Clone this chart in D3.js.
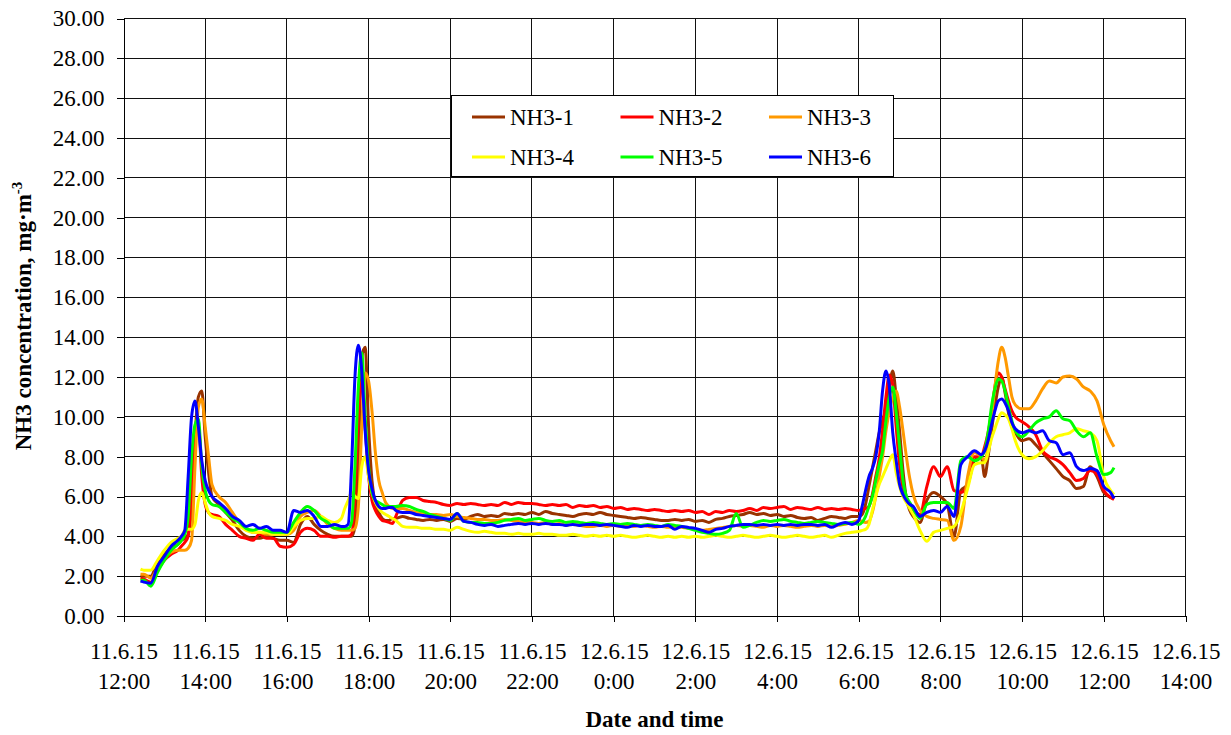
<!DOCTYPE html>
<html>
<head>
<meta charset="utf-8">
<title>NH3 concentration</title>
<script src="https://d3js.org/d3.v7.min.js"></script>
<style>
body { margin: 0; background: #fff; }
text { font-family: "Liberation Serif", "Times New Roman", serif; fill: #000; }
</style>
</head>
<body>
<div id="chart"></div>
<script>
// measurement start and sample times (minutes after 11.6.15 12:00)
var startTime = "11.6.15 12:00";
var minutes = [25, 30, 40, 50, 60, 70, 80,
  85, 90, 95, 100, 105, 110, 115, 120, 125, 130,
  140, 150, 160, 170, 180, 190, 200, 210, 220, 230, 240, 250, 260, 270, 280, 290, 300, 310, 320,
  325, 330, 335, 340, 345, 350, 355, 360, 365, 370, 375, 380, 385, 390, 395,
  400, 410, 420, 430, 440, 450, 460, 470, 480, 490,
  500, 510, 520, 530, 540, 550, 560, 570, 580, 590,
  600, 610, 620, 630, 640, 650, 660, 670, 680, 690,
  700, 710, 720, 730, 740, 750, 760, 770, 780, 790,
  800, 810, 820, 830, 840, 850, 860, 870, 880, 890,
  900, 910, 920, 930, 940, 950, 960, 970, 980, 990,
  1000, 1010, 1020, 1030, 1040, 1050, 1060, 1070,
  1080, 1085, 1090, 1095, 1100, 1105, 1110, 1115, 1120, 1125, 1130, 1135, 1140, 1145, 1150, 1155, 1160,
  1170, 1180, 1190, 1200, 1210, 1220, 1230, 1240, 1250, 1260,
  1265, 1270, 1275, 1280, 1285, 1290, 1295, 1300, 1305,
  1310, 1320, 1330, 1340, 1350, 1360, 1370, 1380, 1390, 1400, 1410, 1420, 1430, 1440, 1450,
  1455];

var nh3_1 = [2.0, 2.0, 2.0, 2.7, 3.1, 3.4, 3.6,
  3.8, 3.9, 4.1, 5.5, 9.0, 11.0, 11.3, 9.0, 7.2, 6.0,
  5.6, 5.2, 4.8, 4.3, 4.0, 3.9, 3.9, 4.0, 3.9, 3.8, 3.8, 3.7, 4.6, 5.0, 4.6, 4.3, 4.1, 4.0, 4.0,
  4.0, 4.0, 4.0, 4.5, 8.0, 13.0, 13.5, 9.5, 6.8, 5.6, 5.2, 4.9, 4.8, 4.8, 4.9,
  4.9, 5.0, 4.9, 4.85, 4.8, 4.85, 4.8, 4.85, 4.75, 4.9,
  4.85, 5.0, 5.1, 5.0, 5.05, 5.0, 5.15, 5.1, 5.15, 5.1,
  5.2, 5.1, 5.25, 5.15, 5.1, 5.05, 5.0, 5.1, 5.15, 5.1,
  5.2, 5.1, 5.05, 5.0, 4.95, 4.9, 4.95, 4.9, 4.85, 4.8,
  4.8, 4.85, 4.8, 4.85, 4.75, 4.8, 4.7, 4.85, 4.9, 5.0,
  5.05, 5.1, 5.2, 5.1, 5.15, 5.05, 5.1, 5.0, 5.05, 4.95,
  4.9, 4.95, 4.8, 4.9, 5.0, 4.95, 4.9, 5.0,
  5.0, 5.1, 5.6, 6.5, 7.4, 8.3, 9.2, 9.8, 10.4, 11.5, 12.3, 11.0, 9.3, 7.3, 5.9, 5.3, 5.0,
  4.7, 5.8, 6.2, 6.0, 5.6, 4.0, 6.3, 6.6, 7.8, 8.0,
  7.0, 8.0, 9.3, 10.5, 11.5, 12.0, 11.2, 10.2, 9.5,
  9.2, 8.8, 8.9, 8.6, 8.2, 7.8, 7.4, 7.0, 6.8, 6.4, 6.5, 7.5, 7.0, 6.2, 5.95,
  5.9];

var nh3_2 = [1.9, 1.85, 1.7, 2.3, 2.8, 3.1, 3.3,
  3.5, 3.7, 4.0, 6.5, 9.3, 9.6, 7.0, 5.6, 5.2, 5.1,
  5.0, 4.6, 4.3, 4.0, 3.9, 3.8, 4.1, 3.9, 3.9, 3.5, 3.45, 3.6, 4.2, 4.4, 4.3, 4.0, 4.0, 3.95, 4.0,
  4.0, 4.0, 4.1, 6.0, 10.0, 11.8, 9.5, 7.0, 5.8, 5.3, 5.0, 4.8, 4.75, 4.7, 4.65,
  5.0, 5.8, 5.95, 5.95, 5.8, 5.75, 5.7, 5.6, 5.55, 5.65,
  5.6, 5.65, 5.6, 5.55, 5.6, 5.55, 5.7, 5.6, 5.7, 5.65,
  5.65, 5.6, 5.55, 5.6, 5.55, 5.6, 5.45, 5.55, 5.5, 5.55,
  5.45, 5.5, 5.4, 5.45, 5.35, 5.4, 5.35, 5.3, 5.35, 5.3,
  5.25, 5.3, 5.25, 5.3, 5.2, 5.25, 5.1, 5.25, 5.2, 5.3,
  5.25, 5.3, 5.4, 5.3, 5.45, 5.4, 5.45, 5.5, 5.35, 5.45,
  5.4, 5.35, 5.45, 5.35, 5.4, 5.35, 5.4, 5.35,
  5.3, 5.35, 5.4, 5.5, 6.1, 7.0, 7.9, 9.3, 11.0, 12.1, 11.6, 9.5, 7.6, 6.4, 5.8, 5.5, 5.3,
  5.1, 6.5, 7.5, 7.0, 7.5, 6.3, 6.2, 6.6, 8.0, 8.0,
  8.5, 9.2, 10.2, 11.5, 12.2, 12.0, 11.4, 10.8, 10.3,
  10.0, 9.75, 9.5, 9.1, 8.3, 8.0, 7.85, 7.6, 7.2, 6.8, 6.9, 7.3, 7.1, 6.3, 5.95,
  5.85];

var nh3_3 = [2.1, 2.1, 1.9, 2.4, 2.9, 3.2, 3.3,
  3.3, 3.3, 3.4, 3.8, 7.5, 10.5, 10.9, 9.5, 8.0, 6.6,
  6.0, 5.7, 5.2, 4.7, 4.4, 4.2, 4.2, 4.1, 4.1, 4.1, 4.1, 4.3, 5.0, 5.2, 5.3, 5.0, 4.6, 4.4, 4.3,
  4.3, 4.3, 4.3, 4.4, 5.5, 9.5, 12.2, 11.8, 10.3, 8.2, 6.8, 6.2, 5.7, 5.5, 5.4,
  5.4, 5.4, 5.3, 5.2, 5.15, 5.1, 5.1, 5.05, 5.1, 5.0,
  4.95, 4.9, 4.85, 4.85, 4.8, 4.8, 4.85, 4.8, 4.75, 4.7,
  4.7, 4.65, 4.7, 4.6, 4.65, 4.55, 4.6, 4.55, 4.5, 4.5,
  4.55, 4.5, 4.55, 4.5, 4.55, 4.5, 4.55, 4.5, 4.45, 4.5,
  4.45, 4.5, 4.45, 4.4, 4.35, 4.3, 4.35, 4.4, 4.45, 4.5,
  4.55, 4.5, 4.55, 4.5, 4.45, 4.55, 4.5, 4.55, 4.5, 4.45,
  4.5, 4.55, 4.5, 4.55, 4.5, 4.55, 4.6, 4.7,
  4.8, 4.75, 4.7, 4.75, 5.2, 6.0, 7.0, 8.0, 9.3, 10.3, 11.0, 11.3, 10.5, 9.3, 8.0, 6.9, 6.1,
  5.3, 5.0, 4.9, 4.85, 4.8, 3.8, 4.5, 7.0, 8.2, 8.0,
  7.8, 8.5, 10.0, 11.5, 12.8, 13.5, 13.0, 12.0, 11.0,
  10.6, 10.4, 10.4, 10.8, 11.4, 11.8, 11.7, 12.0, 12.05, 11.9, 11.5, 11.3, 10.8, 9.6, 8.8,
  8.5];

var nh3_4 = [2.35, 2.3, 2.3, 2.8, 3.3, 3.7, 3.9,
  4.0, 4.3, 4.35, 4.35, 4.6, 5.8, 6.2, 5.7, 5.2, 5.0,
  4.9, 4.8, 4.6, 4.5, 4.3, 4.2, 4.2, 4.2, 4.1, 4.1, 4.1, 4.5, 4.8, 4.9, 4.9, 5.0, 4.8, 4.7, 4.9,
  5.4, 5.8, 6.2, 6.0, 5.9, 7.5, 8.0, 7.0, 6.2, 5.7, 5.4, 5.2, 5.1, 5.0, 4.9,
  4.8, 4.5, 4.45, 4.45, 4.4, 4.4, 4.35, 4.35, 4.3, 4.45,
  4.35, 4.25, 4.2, 4.25, 4.2, 4.15, 4.15, 4.1, 4.15, 4.1,
  4.1, 4.15, 4.1, 4.1, 4.05, 4.05, 4.1, 4.05, 4.0, 4.05,
  4.0, 4.05, 4.0, 4.05, 4.0, 3.95, 4.0, 4.05, 4.0, 3.95,
  4.0, 3.95, 4.0, 3.95, 4.0, 3.95, 4.0, 4.05, 4.0, 3.95,
  4.0, 4.05, 4.0, 3.95, 4.0, 4.05, 4.0, 3.95, 4.0, 4.05,
  4.0, 3.95, 4.0, 4.05, 3.95, 4.05, 4.15, 4.2,
  4.25, 4.3, 4.35, 4.6, 5.3, 6.0, 6.6, 7.0, 7.4, 7.8, 8.1, 7.2, 6.5, 6.0, 5.7, 5.4, 5.1,
  4.3, 3.75, 4.2, 4.3, 4.4, 4.5, 5.2, 6.4, 7.6, 7.7,
  7.7, 8.2, 8.9, 9.4, 9.9, 10.2, 10.1, 9.9, 9.4,
  8.8, 8.1, 7.9, 8.0, 8.3, 8.7, 9.0, 9.1, 9.2, 9.4, 9.3, 9.2, 8.8, 7.0, 6.3,
  6.1];

var nh3_5 = [1.8, 1.8, 1.5, 2.2, 2.8, 3.3, 3.6,
  3.8, 4.1, 5.0, 8.0, 9.6, 9.9, 7.5, 6.3, 5.8, 5.6,
  5.5, 5.2, 4.9, 4.7, 4.4, 4.3, 4.4, 4.3, 4.2, 4.2, 4.2, 4.7, 5.2, 5.5, 5.3, 4.9, 4.7, 4.4, 4.4,
  4.4, 4.4, 4.7, 7.5, 11.5, 13.2, 10.0, 7.5, 6.2, 5.8, 5.7, 5.6, 5.5, 5.5, 5.5,
  5.5, 5.55, 5.5, 5.35, 5.25, 5.1, 5.0, 4.9, 4.8, 5.15,
  4.75, 4.7, 4.7, 4.65, 4.65, 4.7, 4.8, 4.85, 4.9, 4.8,
  4.85, 4.9, 4.8, 4.75, 4.8, 4.7, 4.75, 4.7, 4.65, 4.7,
  4.65, 4.6, 4.65, 4.6, 4.65, 4.6, 4.55, 4.6, 4.55, 4.5,
  4.6, 4.55, 4.5, 4.4, 4.3, 4.2, 4.15, 4.1, 4.15, 4.3,
  5.15, 4.45, 4.55, 4.7, 4.8, 4.75, 4.8, 4.85, 4.75, 4.7,
  4.65, 4.7, 4.75, 4.7, 4.65, 4.6, 4.65, 4.7,
  4.6, 4.7, 5.0, 5.5, 6.0, 6.8, 7.6, 8.3, 9.8, 11.0, 11.5, 10.2, 8.5, 6.8, 6.0, 5.7, 5.4,
  4.9, 5.6, 5.7, 5.7, 5.7, 5.4, 7.8, 8.0, 7.8, 8.0,
  8.3, 9.2, 10.5, 11.4, 11.9, 11.8, 11.3, 10.5, 9.8,
  9.3, 9.0, 9.3, 9.7, 9.9, 10.0, 10.3, 9.9, 9.8, 9.3, 9.0, 9.2, 8.0, 7.1, 7.2,
  7.45];

var nh3_6 = [1.75, 1.7, 1.65, 2.5, 3.0, 3.5, 3.8,
  4.0, 4.3, 7.0, 10.0, 10.8, 9.5, 7.8, 6.8, 6.3, 6.0,
  5.7, 5.4, 5.0, 4.8, 4.5, 4.6, 4.4, 4.5, 4.3, 4.3, 4.2, 5.3, 5.2, 5.3, 5.0, 4.5, 4.5, 4.6, 4.5,
  4.5, 4.6, 7.5, 12.0, 13.6, 12.3, 9.3, 7.3, 6.4, 5.8, 5.5, 5.4, 5.4, 5.45, 5.45,
  5.3, 5.2, 5.2, 5.1, 5.05, 5.0, 4.95, 4.9, 4.85, 5.15,
  4.75, 4.7, 4.6, 4.55, 4.6, 4.5, 4.55, 4.6, 4.65, 4.6,
  4.65, 4.6, 4.65, 4.6, 4.6, 4.55, 4.6, 4.55, 4.6, 4.6,
  4.55, 4.6, 4.55, 4.5, 4.45, 4.55, 4.5, 4.55, 4.5, 4.5,
  4.55, 4.35, 4.5, 4.45, 4.4, 4.3, 4.2, 4.35, 4.4, 4.5,
  4.55, 4.6, 4.6, 4.55, 4.6, 4.55, 4.6, 4.55, 4.6, 4.55,
  4.6, 4.6, 4.55, 4.6, 4.45, 4.6, 4.7, 4.6,
  4.8, 5.5, 6.3, 7.0, 7.4, 8.0, 9.2, 11.3, 12.3, 11.5, 9.2, 7.8, 6.6, 6.1, 5.8, 5.6, 5.5,
  5.0, 5.2, 5.3, 5.2, 5.5, 5.0, 7.6, 8.0, 8.3, 8.1,
  8.3, 8.8, 9.6, 10.3, 10.8, 10.9, 10.7, 10.3, 9.7,
  9.4, 9.2, 9.3, 9.2, 9.3, 8.8, 8.7, 8.1, 8.2, 7.5, 7.3, 7.4, 7.3, 6.5, 6.2,
  5.9];

var seriesNames = ["NH3-1", "NH3-2", "NH3-3", "NH3-4", "NH3-5", "NH3-6"];
var seriesValues = [nh3_1, nh3_2, nh3_3, nh3_4, nh3_5, nh3_6];
var seriesColors = ["#993300", "#ff0000", "#ff9900", "#ffff00", "#00ff00", "#0000ff"];

var yTicks = [0, 2, 4, 6, 8, 10, 12, 14, 16, 18, 20, 22, 24, 26, 28, 30];
var xTickLabels = ["11.6.15 12:00", "11.6.15 14:00", "11.6.15 16:00", "11.6.15 18:00",
  "11.6.15 20:00", "11.6.15 22:00", "12.6.15 0:00", "12.6.15 2:00", "12.6.15 4:00",
  "12.6.15 6:00", "12.6.15 8:00", "12.6.15 10:00", "12.6.15 12:00", "12.6.15 14:00"];

var W = 1231, H = 735;
var plotLeft = 123.5, plotRight = 1185.5, plotTop = 18.5, plotBottom = 616;

var parseTime = d3.timeParse("%d.%m.%y %H:%M");
var t0 = parseTime(startTime);
var xTickDates = xTickLabels.map(function (s) { return parseTime(s); });

var x = d3.scaleTime()
  .domain([xTickDates[0], xTickDates[xTickDates.length - 1]])
  .range([plotLeft, plotRight]);
var y = d3.scaleLinear().domain([0, 30]).range([plotBottom, plotTop]);

var svg = d3.select("#chart").append("svg")
  .attr("width", W).attr("height", H)
  .style("display", "block");

svg.append("rect").attr("width", W).attr("height", H).attr("fill", "#fff");

// grid
var grid = svg.append("g").attr("shape-rendering", "crispEdges");
grid.selectAll(".hg").data(yTicks.slice(1)).enter().append("line")
  .attr("x1", plotLeft).attr("x2", plotRight)
  .attr("y1", function (d) { return y(d); }).attr("y2", function (d) { return y(d); })
  .attr("stroke", "#111").attr("stroke-width", 1);
grid.selectAll(".vg").data(xTickDates.slice(1)).enter().append("line")
  .attr("x1", function (d) { return x(d); }).attr("x2", function (d) { return x(d); })
  .attr("y1", plotTop).attr("y2", plotBottom)
  .attr("stroke", "#111").attr("stroke-width", 1);

// axes
var yAxis = d3.axisLeft(y).tickValues(yTicks).tickFormat(d3.format(".2f"))
  .tickSize(7).tickSizeOuter(0).tickPadding(12);
var gy = svg.append("g").attr("transform", "translate(" + plotLeft + ",0)").call(yAxis);
gy.attr("font-family", null).attr("font-size", null);
gy.selectAll("text").attr("font-size", 23);
gy.selectAll("line, path").attr("stroke", "#000").attr("shape-rendering", "crispEdges");

var xAxis = d3.axisBottom(x).tickValues(xTickDates)
  .tickFormat(function (d, i) { return xTickLabels[i]; })
  .tickSize(6).tickSizeOuter(0);
var gx = svg.append("g").attr("transform", "translate(0," + plotBottom + ")").call(xAxis);
gx.attr("font-family", null).attr("font-size", null);
gx.selectAll("line, path").attr("stroke", "#000").attr("shape-rendering", "crispEdges");
gx.selectAll("text").each(function (d, i) {
  var parts = xTickLabels[i].split(" ");
  var t = d3.select(this).text(null).attr("y", null).attr("dy", null)
    .attr("font-size", 23);
  t.append("tspan").attr("x", 0).attr("y", 43).text(parts[0]);
  t.append("tspan").attr("x", 0).attr("y", 73).text(parts[1]);
});

// series
var line = d3.line()
  .x(function (d) { return x(d.t); })
  .y(function (d) { return y(d.v); })
  .curve(d3.curveMonotoneX);

seriesValues.forEach(function (vals, i) {
  var pts = minutes.map(function (m, j) {
    return { t: new Date(t0.getTime() + m * 60000), v: vals[j] };
  });
  svg.append("path").datum(pts)
    .attr("fill", "none")
    .attr("stroke", seriesColors[i])
    .attr("stroke-width", 3)
    .attr("stroke-linejoin", "round")
    .attr("d", line);
});

// legend
var lg = svg.append("g");
lg.append("rect").attr("x", 451.5).attr("y", 95.5).attr("width", 442).attr("height", 81)
  .attr("fill", "#fff").attr("stroke", "#000").attr("stroke-width", 1)
  .attr("shape-rendering", "crispEdges");
seriesNames.forEach(function (name, i) {
  var col = i % 3, row = Math.floor(i / 3);
  var lx = 472 + col * 148.5, ly = 117 + row * 40;
  lg.append("line").attr("x1", lx).attr("x2", lx + 33).attr("y1", ly).attr("y2", ly)
    .attr("stroke", seriesColors[i]).attr("stroke-width", 3);
  lg.append("text").attr("x", lx + 38).attr("y", ly + 8).attr("font-size", 23).text(name);
});

// axis titles
svg.append("text")
  .attr("x", (plotLeft + plotRight) / 2).attr("y", 727)
  .attr("text-anchor", "middle").attr("font-size", 23).attr("font-weight", "bold")
  .text("Date and time");

var yt = svg.append("text")
  .attr("transform", "translate(31,316) rotate(-90)")
  .attr("text-anchor", "middle").attr("font-size", 23).attr("font-weight", "bold");
yt.append("tspan").text("NH3 concentration, mg·m");
yt.append("tspan").attr("dy", -9).attr("font-size", 15).text("-3");
</script>
</body>
</html>
